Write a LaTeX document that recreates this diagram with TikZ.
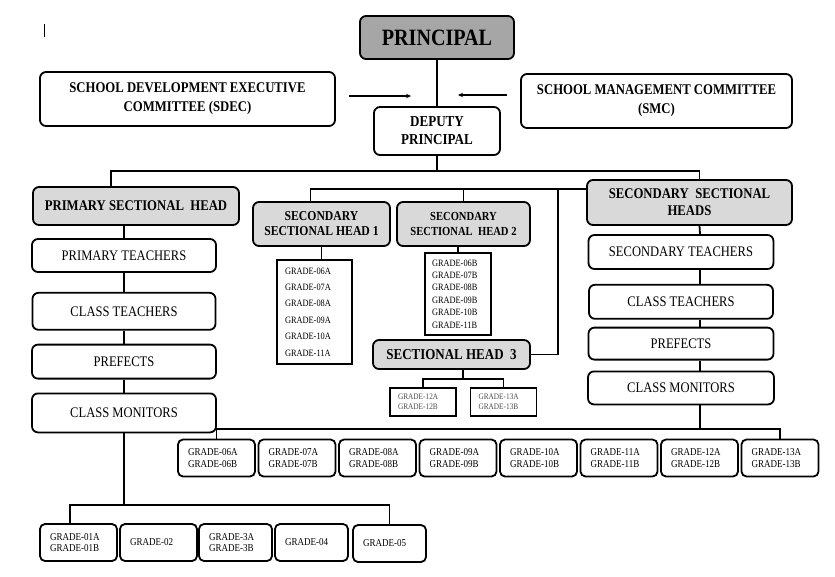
\documentclass[tikz,border=0pt]{standalone}
\usepackage{fontspec}
\setmainfont{Liberation Serif}[FakeStretch=0.86]
\usetikzlibrary{positioning,arrows.meta}
\definecolor{darkhead}{RGB}{166,166,166}
\definecolor{lighthead}{RGB}{217,217,217}

\begin{document}
\begin{tikzpicture}[
  x=1pt, y=-1pt, line width=1.8pt,
  topbox/.style={draw, rounded corners=6pt, align=center, font=\bfseries\fontsize{14.8}{19}\selectfont},
  headbox/.style={draw, rounded corners=6pt, fill=lighthead, align=center, font=\bfseries\fontsize{14.8}{17}\selectfont},
  rolebox/.style={draw, rounded corners=6pt, align=center, font=\fontsize{14.6}{15}\selectfont},
  listbox/.style={draw, align=left, inner xsep=8pt},
  gradebox/.style={draw, rounded corners=5pt, align=left, inner xsep=10pt, text width=57pt, minimum height=37pt, font=\fontsize{10.5}{11.5}\selectfont},
  subgrade/.style={draw, align=left, inner xsep=8pt, text width=50pt, minimum height=28pt, text=black!70, font=\fontsize{8.5}{10}\selectfont},
  arr/.style={-{Stealth[length=5pt,width=4.5pt]}, line width=1.1pt}
]
  \useasboundingbox (0,0) rectangle (835,576);
  \draw[line width=0.8pt] (44,24) -- (44,37);

  \node[topbox, fill=darkhead, minimum width=154pt, minimum height=43pt, font=\bfseries\fontsize{23.4}{24}\selectfont] (principal) at (437,37.5) {PRINCIPAL};
  \node[topbox, minimum width=295pt, minimum height=54pt] (sdec) at (187.5,99) {SCHOOL DEVELOPMENT EXECUTIVE\\COMMITTEE (SDEC)};
  \node[topbox, minimum width=271pt, minimum height=54pt] (smc) at (656.5,101) {SCHOOL MANAGEMENT COMMITTEE\\(SMC)};
  \node[topbox, minimum width=126pt, minimum height=48pt, font=\bfseries\fontsize{15.2}{18}\selectfont] (deputy) at (437,131) {DEPUTY\\PRINCIPAL};
  \coordinate (sdecin) at (411,96);
  \coordinate (smcin) at (458,95);
  \coordinate (bus) at (437,171);

  \node[headbox, minimum width=206pt, minimum height=38pt] (psh) at (136,206) {PRIMARY SECTIONAL\ \ HEAD};
  \node[rolebox, minimum width=184pt, minimum height=33pt] (ptea) at (124,255.5) {PRIMARY TEACHERS};
  \node[rolebox, minimum width=183pt, minimum height=37pt, below=19pt of ptea] (pct) {CLASS TEACHERS};
  \node[rolebox, minimum width=184pt, minimum height=34pt, below=13pt of pct] (ppre) {PREFECTS};
  \node[rolebox, minimum width=184pt, minimum height=39pt, below=13pt of ppre] (pmon) {CLASS MONITORS};
  \coordinate (pbus) at (124,505);

  \node[headbox, minimum width=137pt, minimum height=44pt, font=\bfseries\fontsize{13.6}{15}\selectfont] (ssh1) at (321.5,224) {SECONDARY\\SECTIONAL HEAD 1};
  \node[headbox, minimum width=133pt, minimum height=44pt, font=\bfseries\fontsize{12.3}{15}\selectfont] (ssh2) at (463.5,224) {SECONDARY\\SECTIONAL\ \ HEAD 2};
  \node[listbox, text width=59pt, minimum height=104pt, font=\fontsize{9.7}{16.4}\selectfont] (list1) at (314.5,312) {GRADE-06A\\GRADE-07A\\GRADE-08A\\GRADE-09A\\GRADE-10A\\GRADE-11A};
  \node[listbox, text width=52pt, inner xsep=7pt, minimum height=82pt, font=\fontsize{9.7}{12.4}\selectfont] (list2) at (458,294) {GRADE-06B\\GRADE-07B\\GRADE-08B\\GRADE-09B\\GRADE-10B\\GRADE-11B};
  \node[headbox, minimum width=157pt, minimum height=29pt, font=\bfseries\fontsize{15.1}{15}\selectfont] (sh3) at (451.5,354.5) {SECTIONAL HEAD\ \ 3};
  \node[subgrade] (sh12) at (423,402) {GRADE-12A\\GRADE-12B};
  \node[subgrade] (sh13) at (503.5,402) {GRADE-13A\\GRADE-13B};
  \coordinate (sbus) at (558,189);
  \coordinate (hbus) at (463,379);

  \node[headbox, minimum width=205pt, minimum height=45pt] (ssh) at (689.5,202.5) {SECONDARY\ \ SECTIONAL\\HEADS};
  \node[rolebox, minimum width=185pt, minimum height=34pt] (stea) at (681,252) {SECONDARY TEACHERS};
  \node[rolebox, minimum width=184pt, minimum height=34pt, below=14pt of stea] (sct) {CLASS TEACHERS};
  \node[rolebox, minimum width=185pt, minimum height=32pt, below=7pt of sct] (spre) {PREFECTS};
  \node[rolebox, minimum width=186pt, minimum height=33pt, below=10pt of spre] (smon) {CLASS MONITORS};
  \coordinate (gbus) at (700,429);

  \foreach \g [count=\i from 0] in {06,07,08,09,10,11,12,13}
    \node[gradebox] (g\g) at (216.5+80.5*\i,458) {GRADE-\g{}A\\GRADE-\g{}B};

  \node[gradebox] (g01) at (78.5,542.5) {GRADE-01A\\GRADE-01B};
  \node[gradebox] (g02) at (158.5,542.5) {GRADE-02};
  \node[gradebox, text width=53pt] (g03) at (235.5,542.5) {GRADE-3A\\GRADE-3B};
  \node[gradebox, text width=53pt] (g04) at (311.5,542.5) {GRADE-04};
  \node[gradebox, text width=53pt] (g05) at (389.5,543.5) {GRADE-05};

  \draw (principal) -- (deputy);
  \draw[arr] ([xshift=13pt,yshift=3pt]sdec.east) -- (sdecin);
  \draw[arr] ([xshift=-13pt,yshift=6pt]smc.west) -- (smcin);
  \draw (deputy) -- (bus);
  \draw ([xshift=-25pt]psh.north) |- (bus) -| ([xshift=10pt]ssh.north);

  \draw (ptea.north) -- (ptea.north |- psh.south);
  \draw (ptea) -- (pct);
  \draw (pct) -- (ppre);
  \draw (ppre) -- (pmon);
  \draw (pmon) -- (pbus);
  \draw ([xshift=-8.5pt]g01.north) |- (pbus) -| (g05.north);

  \draw ([xshift=-11pt]ssh1.north) |- (ssh.west |- sbus);
  \draw (ssh2.north) -- (ssh2.north |- sbus);
  \draw (sbus) |- (sh3.east);
  \draw (ssh1.south) -- (ssh1.south |- list1.north);
  \draw (list2.north) -- (list2.north |- ssh2.south);
  \draw ([xshift=11.5pt]sh3.south) -- (hbus);
  \draw (sh12.north) |- (hbus) -| (sh13.north);

  \draw ([xshift=10pt]ssh.south) -- ([xshift=19pt]stea.north);
  \draw ([xshift=19pt]stea.south) -- ([xshift=19pt]sct.north);
  \draw ([xshift=19pt]sct.south) -- ([xshift=19pt]spre.north);
  \draw ([xshift=19pt]spre.south) -- ([xshift=19pt]smon.north);
  \draw ([xshift=19pt]smon.south) -- (gbus);
  \draw (g06.north) |- (gbus) -| (g13.north);
\end{tikzpicture}
\end{document}
